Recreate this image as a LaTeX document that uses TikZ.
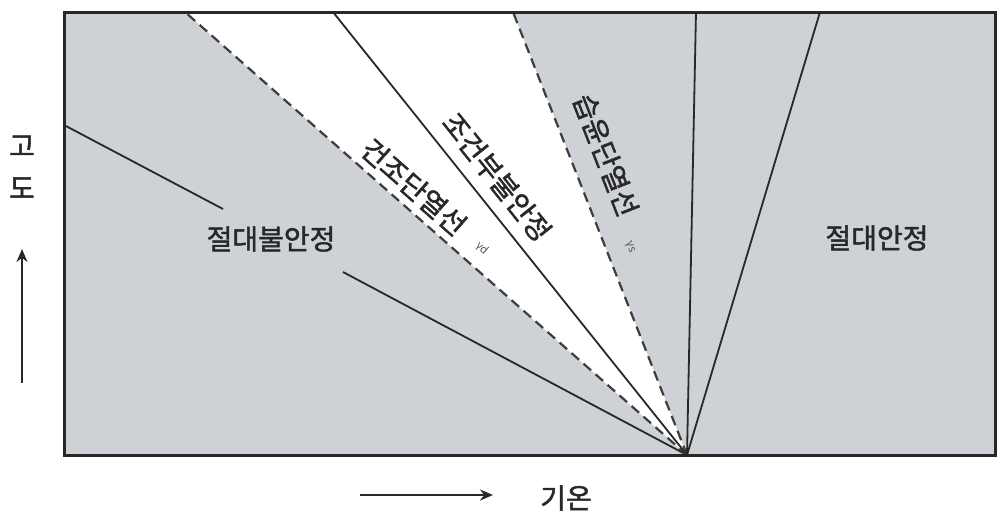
\documentclass[tikz,border=0pt]{standalone}
\usepackage{fontspec}
\setmainfont{Noto Sans CJK KR}
\newfontfamily\krb{Noto Sans CJK KR}[FakeBold=1.6]
\usetikzlibrary{arrows.meta}
\definecolor{bggray}{RGB}{206,209,213}
\definecolor{ink}{RGB}{40,40,40}
\tikzset{
  lbl/.style={font=\krb\fontsize{28}{30}\selectfont, text=ink, inner sep=0pt},
  small/.style={font=\fontsize{11}{12}\selectfont, text=ink!80, inner sep=0pt},
  ln/.style={draw=ink, line width=1.8pt},
  dln/.style={draw=ink!90, line width=2.2pt, dash pattern=on 10pt off 6pt},
  axarrow/.style={draw=ink, line width=2.4pt, -{Stealth[length=13pt,width=11pt]}}
}
\begin{document}
\begin{tikzpicture}[x=1pt,y=-1pt]
\useasboundingbox (0,0) rectangle (1003,517);
% corners
\coordinate (TL) at (64,12);
\coordinate (BR) at (995,455);
\coordinate (A) at (687,455);
\coordinate (Dry) at (185,12);
\coordinate (Cond) at (333,12);
\coordinate (Moist) at (513,12);
\coordinate (Vert) at (696,12);
\coordinate (Right) at (820,12);
\coordinate (L0) at (64,125);
\coordinate (L1) at (223,209);
\coordinate (L2) at (343,272);
% fills
\fill[bggray] (TL) rectangle (BR);
\fill[white] (A) -- (Dry) -- (Moist) -- cycle;
% lines
\draw[ln] (L0) -- (L1);
\draw[ln] (L2) -- (A);
\draw[dln] (A) -- (Dry);
\draw[ln] (A) -- (Cond);
\draw[dln] (A) -- (Moist);
\draw[ln] (A) -- (Vert);
\draw[ln] (A) -- (Right);
% frame
\draw[draw=ink, line width=3pt] (TL) rectangle (BR);
% labels
\node[lbl] (absun) at (271,239) {절대불안정};
\node[lbl] (abst) at (877,238) {절대안정};
\node[lbl, rotate=-41.4] (dry) at (414,187) {건조단열선};
\node[small, rotate=-41.4] (gd) at (482,248) {γd};
\node[lbl, rotate=-51.4] (cond) at (497,177) {조건부불안정};
\node[lbl, rotate=-68.6] (moist) at (606,155) {습윤단열선};
\node[small, rotate=-68.6] (gs) at (630,247) {γs};
% axes
\node[lbl] (go) at (22,146) {고};
\node[lbl] (do) at (22,188) {도};
\coordinate (UA0) at (22,383);
\coordinate (UA1) at (22,249);
\draw[axarrow] (UA0) -- (UA1);
\coordinate (RA0) at (360,495);
\coordinate (RA1) at (493,495);
\draw[axarrow] (RA0) -- (RA1);
\node[lbl] (temp) at (566,498) {기온};
\end{tikzpicture}
\end{document}
